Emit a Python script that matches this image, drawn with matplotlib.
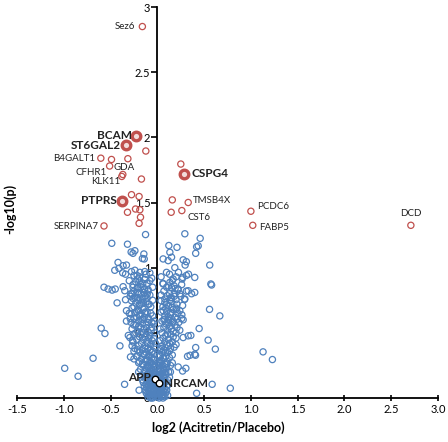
import matplotlib
matplotlib.use("Agg")
import matplotlib.pyplot as plt

plt.rcParams['font.family'] = ['Lato', 'DejaVu Sans']

# sparse blue points (log2 ratio, -log10 p)
blue_sparse = [
    (-0.126, 1.254), (0.294, 1.26), (0.458, 1.225), (-0.487, 1.187), (-0.319, 1.18),
    (-0.28, 1.12), (-0.24, 1.13), (-0.26, 1.11), (0.123, 1.17), (0.21, 1.156), (0.437, 1.167),
    (0.42, 1.16), (0.134, 1.118), (0.41, 1.11), (-0.144, 1.105), (-0.14, 1.067), (-0.16, 1.07),
    (0.062, 1.067), (0.116, 1.054), (0.152, 1.08), (0.276, 1.06), (0.31, 1.046), (0.297, 1.02),
    (0.187, 1.0), (0.56, 1.02), (-0.42, 1.04), (-0.366, 1.015), (-0.33, 1.02), (-0.455, 0.98),
    (-0.41, 0.995), (-0.37, 0.96), (-0.34, 0.95), (-0.276, 0.97), (-0.24, 0.98), (-0.187, 0.964),
    (-0.25, 0.94), (-0.216, 0.94), (-0.134, 0.97), (-0.08, 0.96), (0.098, 0.964), (0.226, 0.964),
    (0.31, 0.94), (0.27, 0.925), (0.333, 0.95), (0.40, 0.925), (0.169, 0.913), (0.265, 0.913),
    (0.572, 0.875), (0.58, 0.867), (-0.21, 0.913), (-0.187, 0.9), (-0.134, 0.91),
    (0.062, 0.875), (0.134, 0.887), (0.152, 0.848), (0.18, 0.86), (0.223, 0.836), (0.26, 0.87),
    (0.33, 0.823), (-0.57, 0.85), (-0.526, 0.836), (-0.483, 0.828), (-0.45, 0.836),
    (-0.366, 0.854), (-0.348, 0.823), (-0.26, 0.85), (-0.216, 0.843), (-0.176, 0.85),
    (-0.134, 0.837), (-0.098, 0.83), (-0.212, 0.81), (-0.173, 0.798), (-0.144, 0.81),
    (-0.108, 0.798), (0.31, 0.82), (0.40, 0.81), (0.366, 0.80), (0.29, 0.756),
    (0.105, 0.785), (0.152, 0.77), (0.18, 0.80), (0.2, 0.754), (0.25, 0.78), (0.294, 0.76),
    (-0.43, 0.73), (-0.34, 0.754), (-0.276, 0.746), (-0.283, 0.8), (-0.26, 0.764),
    (-0.24, 0.77), (-0.2, 0.75), (-0.187, 0.72), (-0.15, 0.733), (-0.11, 0.767), (-0.088, 0.72),
    (0.04, 0.746), (0.08, 0.733), (0.098, 0.72), (0.134, 0.75), (0.16, 0.695), (0.205, 0.68),
    (0.558, 0.68), (0.668, 0.63), (-0.33, 0.67), (-0.28, 0.644), (-0.24, 0.656), (-0.21, 0.68),
    (-0.33, 0.59), (-0.29, 0.61), (-0.187, 0.63), (-0.158, 0.605), (-0.13, 0.65), (-0.098, 0.613),
    (-0.059, 0.58), (-0.034, 0.59), (0.062, 0.67), (0.08, 0.605), (0.116, 0.623), (0.141, 0.656),
    (0.169, 0.59), (0.212, 0.605), (0.262, 0.638), (0.276, 0.6),
    (-0.6, 0.536), (-0.56, 0.495), (-0.4, 0.4), (-0.687, 0.305), (-0.99, 0.228), (-0.847, 0.167),
    (-0.294, 0.464), (-0.265, 0.44), (-0.25, 0.36), (-0.216, 0.32), (-0.287, 0.315),
    (-0.35, 0.105), (-0.195, 0.06), (-0.116, 0.08),
    (0.323, 0.32), (0.40, 0.336), (0.41, 0.387), (0.447, 0.533), (0.33, 0.477), (0.276, 0.464),
    (0.358, 0.48), (0.35, 0.328), (0.408, 0.328), (0.543, 0.444), (0.62, 0.375),
    (0.305, 0.228), (0.27, 0.207), (0.223, 0.238), (0.42, 0.036), (0.586, 0.105), (0.78, 0.075),
    (1.13, 0.354), (1.23, 0.295),
]

# dense V-shaped core, estimated
core_left = [
    (-0.02, 0.01), (-0.05, 0.01), (-0.08, 0.02), (-0.03, 0.03), (-0.11, 0.03), (-0.06, 0.04),
    (-0.01, 0.05), (-0.09, 0.05), (-0.04, 0.06), (-0.13, 0.06), (-0.07, 0.07), (-0.02, 0.08),
    (-0.1, 0.08), (-0.05, 0.09), (-0.12, 0.1), (-0.08, 0.11), (-0.03, 0.11), (-0.15, 0.12),
    (-0.06, 0.13), (-0.1, 0.14), (-0.13, 0.15), (-0.04, 0.15), (-0.08, 0.16), (-0.17, 0.17),
    (-0.11, 0.18), (-0.06, 0.18), (-0.14, 0.2), (-0.09, 0.2), (-0.04, 0.21), (-0.18, 0.22),
    (-0.12, 0.23), (-0.07, 0.23), (-0.15, 0.25), (-0.1, 0.25), (-0.05, 0.26), (-0.2, 0.27),
    (-0.13, 0.28), (-0.08, 0.28), (-0.17, 0.3), (-0.11, 0.3), (-0.06, 0.31), (-0.22, 0.32),
    (-0.14, 0.33), (-0.09, 0.33), (-0.19, 0.35), (-0.12, 0.35), (-0.05, 0.36), (-0.16, 0.37),
    (-0.24, 0.38), (-0.1, 0.38), (-0.2, 0.4), (-0.13, 0.4), (-0.07, 0.41), (-0.17, 0.42),
    (-0.26, 0.43), (-0.11, 0.43), (-0.22, 0.45), (-0.15, 0.45), (-0.04, 0.46), (-0.19, 0.47),
    (-0.12, 0.48), (-0.08, 0.48), (-0.25, 0.49), (-0.16, 0.5), (-0.21, 0.51), (-0.1, 0.51),
    (-0.14, 0.53), (-0.27, 0.53), (-0.18, 0.54), (-0.06, 0.54), (-0.23, 0.56), (-0.12, 0.56),
    (-0.16, 0.57), (-0.2, 0.59), (-0.09, 0.6), (-0.25, 0.61), (-0.14, 0.62), (-0.05, 0.63),
    (-0.18, 0.64), (-0.22, 0.66), (-0.11, 0.66), (-0.15, 0.68), (-0.27, 0.69), (-0.07, 0.7),
    (-0.19, 0.71), (-0.23, 0.73), (-0.12, 0.74), (-0.16, 0.76), (-0.29, 0.78), (-0.08, 0.79),
    (-0.2, 0.8), (-0.25, 0.82), (-0.14, 0.83), (-0.18, 0.87), (-0.11, 0.88), (-0.23, 0.89),
    (-0.3, 0.9), (-0.06, 0.92),
    (-0.015, 0.14), (-0.035, 0.18), (-0.025, 0.24), (-0.045, 0.3), (-0.03, 0.34), (-0.075, 0.37),
    (-0.02, 0.42), (-0.055, 0.44), (-0.09, 0.46), (-0.135, 0.47), (-0.18, 0.49), (-0.23, 0.5),
    (-0.03, 0.5), (-0.065, 0.52), (-0.115, 0.54), (-0.2, 0.55), (-0.25, 0.56), (-0.04, 0.57),
    (-0.1, 0.58), (-0.175, 0.6), (-0.22, 0.62), (-0.07, 0.65), (-0.13, 0.66), (-0.2, 0.67),
    (-0.25, 0.7), (-0.1, 0.72), (-0.17, 0.73), (-0.05, 0.75), (-0.21, 0.77), (-0.13, 0.78),
    (-0.27, 0.8), (-0.1, 0.82), (-0.05, 0.85), (-0.21, 0.85), (-0.155, 0.88), (-0.26, 0.87),
    (-0.08, 0.9), (-0.19, 0.93), (-0.12, 0.95), (-0.3, 0.65), (-0.28, 0.58), (-0.31, 0.48),
    (-0.27, 0.4), (-0.21, 0.37), (-0.25, 0.3), (-0.19, 0.28), (-0.2, 0.2), (-0.16, 0.14),
    (-0.14, 0.09), (-0.12, 0.04),
]
core_right = [
    (0.01, 0.01), (0.04, 0.01), (0.07, 0.02), (0.02, 0.03), (0.05, 0.04), (0.09, 0.04),
    (0.03, 0.05), (0.06, 0.06), (0.01, 0.07), (0.08, 0.07), (0.04, 0.08), (0.1, 0.09),
    (0.02, 0.1), (0.06, 0.1), (0.08, 0.12), (0.03, 0.13), (0.05, 0.14), (0.11, 0.14),
    (0.07, 0.16), (0.03, 0.17), (0.09, 0.18), (0.05, 0.19), (0.12, 0.2), (0.04, 0.21),
    (0.07, 0.22), (0.1, 0.23), (0.05, 0.25), (0.14, 0.25), (0.08, 0.26), (0.11, 0.28),
    (0.04, 0.29), (0.06, 0.31), (0.13, 0.31), (0.09, 0.32), (0.16, 0.33), (0.05, 0.35),
    (0.11, 0.35), (0.07, 0.37), (0.14, 0.38), (0.18, 0.39), (0.05, 0.4), (0.1, 0.41),
    (0.08, 0.43), (0.16, 0.43), (0.12, 0.45), (0.06, 0.46), (0.2, 0.46), (0.09, 0.48),
    (0.14, 0.49), (0.05, 0.5), (0.17, 0.51), (0.11, 0.52), (0.07, 0.54), (0.21, 0.54),
    (0.13, 0.55), (0.09, 0.57), (0.16, 0.58), (0.05, 0.59), (0.23, 0.58), (0.12, 0.6),
    (0.19, 0.62), (0.08, 0.63), (0.14, 0.64), (0.1, 0.66), (0.24, 0.67), (0.17, 0.68),
    (0.06, 0.7), (0.12, 0.71), (0.21, 0.72), (0.15, 0.74), (0.08, 0.76), (0.18, 0.78),
    (0.13, 0.8), (0.07, 0.82), (0.22, 0.83), (0.1, 0.85), (0.16, 0.9), (0.04, 0.93),
    (0.015, 0.15), (0.03, 0.22), (0.02, 0.27), (0.03, 0.32), (0.085, 0.35), (0.13, 0.36),
    (0.04, 0.38), (0.2, 0.41), (0.13, 0.42), (0.03, 0.44), (0.17, 0.47), (0.11, 0.49),
    (0.2, 0.5), (0.03, 0.53), (0.15, 0.53), (0.24, 0.52), (0.19, 0.56), (0.12, 0.58),
    (0.07, 0.6), (0.26, 0.61), (0.15, 0.61), (0.22, 0.65), (0.04, 0.66), (0.2, 0.69),
    (0.09, 0.69), (0.27, 0.71), (0.14, 0.77), (0.04, 0.79), (0.24, 0.8), (0.19, 0.84),
    (0.12, 0.86), (0.06, 0.88), (0.2, 0.93), (0.13, 0.95), (0.16, 0.27), (0.14, 0.2),
    (0.13, 0.16), (0.11, 0.1), (0.1, 0.06), (0.11, 0.02),
]
core_base = [
    (-0.1, 0.01), (-0.07, 0.0), (-0.04, 0.02), (0.0, 0.01), (0.02, 0.0), (0.05, 0.02),
    (0.08, 0.01), (-0.09, 0.03), (-0.02, 0.04), (0.01, 0.04), (0.04, 0.05), (0.07, 0.05),
    (-0.06, 0.06), (-0.01, 0.06), (0.02, 0.07), (0.05, 0.08), (-0.08, 0.08), (-0.03, 0.09),
    (0.0, 0.09), (0.03, 0.1), (0.07, 0.11), (-0.11, 0.11), (-0.05, 0.12), (0.0, 0.12),
    (0.04, 0.12), (-0.08, 0.13), (-0.02, 0.14), (0.02, 0.15), (0.08, 0.15), (-0.12, 0.16),
    (-0.05, 0.17), (0.0, 0.17), (0.05, 0.17), (-0.09, 0.19), (-0.02, 0.19), (0.02, 0.2),
    (0.09, 0.2), (-0.13, 0.21), (-0.06, 0.22), (0.0, 0.22), (0.06, 0.23), (-0.1, 0.24),
    (-0.03, 0.24), (0.02, 0.25), (0.1, 0.26), (-0.16, 0.26), (-0.07, 0.27), (0.03, 0.28),
    (-0.12, 0.29), (-0.03, 0.29), (0.07, 0.3), (-0.09, 0.32), (0.02, 0.33), (-0.15, 0.34),
    (-0.06, 0.35), (0.03, 0.37), (-0.13, 0.38), (-0.03, 0.39), (0.12, 0.4), (-0.1, 0.42),
    (-0.05, 0.0), (0.06, 0.0), (-0.01, 0.03), (0.03, 0.03), (-0.07, 0.1), (0.05, 0.11),
    (-0.04, 0.16), (0.03, 0.18), (0.06, 0.2), (-0.07, 0.2), (0.0, 0.27), (-0.08, 0.25),
]

# significant proteins (red)
red_open = [
    (-0.16, 2.85), (-0.123, 1.895), (-0.604, 1.84), (-0.49, 1.83), (-0.315, 1.836),
    (-0.51, 1.78), (-0.369, 1.715), (-0.38, 1.70), (-0.17, 1.68), (-0.276, 1.56),
    (-0.195, 1.546), (-0.233, 1.45), (-0.187, 1.444), (-0.319, 1.425), (-0.18, 1.387),
    (-0.195, 1.34), (-0.57, 1.32), (0.251, 1.795), (0.16, 1.52), (0.33, 1.50),
    (0.148, 1.425), (0.262, 1.438), (1.0, 1.433), (1.02, 1.325), (2.71, 1.325),
]
red_big = [(-0.227, 2.008), (-0.34, 1.94), (-0.38, 1.513), (0.29, 1.715)]
black_pts = [(-0.027, 0.146), (0.013, 0.115)]

# labels: text, x, y, horizontal alignment, bold
labels = [
    ("Sez6", -0.24, 2.854, "right", False),
    ("BCAM", -0.276, 2.013, "right", True),
    ("ST6GAL2", -0.394, 1.94, "right", True),
    ("B4GALT1", -0.668, 1.836, "right", False),
    ("GDA", -0.465, 1.767, "left", False),
    ("CFHR1", -0.543, 1.728, "right", False),
    ("KLK11", -0.398, 1.66, "right", False),
    ("PTPRS", -0.436, 1.515, "right", True),
    ("SERPINA7", -0.622, 1.318, "right", False),
    ("CSPG4", 0.366, 1.725, "left", True),
    ("TMSB4X", 0.376, 1.515, "left", False),
    ("CST6", 0.319, 1.387, "left", False),
    ("PCDC6", 1.068, 1.472, "left", False),
    ("FABP5", 1.089, 1.31, "left", False),
    ("DCD", 2.708, 1.413, "center", False),
    ("APP", -0.066, 0.16, "right", True),
    ("NRCAM", 0.073, 0.11, "left", True),
]

x_ticks = [-1.5, -1.0, -0.5, 0.0, 0.5, 1.0, 1.5, 2.0, 2.5, 3.0]
y_ticks = [0, 0.5, 1, 1.5, 2, 2.5, 3]
y_tick_labels = ["0", "0.5", "1", "1.5", "2", "2.5", "3"]

BLUE = "#4F81BD"
RED = "#C0504D"

fig = plt.figure(figsize=(4.48, 4.42), dpi=100)
ax = fig.add_axes([17 / 448, 44 / 442, 421 / 448, 391 / 442])

blue = blue_sparse + core_left + core_right + core_base
ax.scatter([p[0] for p in blue], [p[1] for p in blue], s=20, facecolors="none",
           edgecolors=BLUE, linewidths=0.9, zorder=3, clip_on=False)
ax.scatter([p[0] for p in red_open], [p[1] for p in red_open], s=20, facecolors="none",
           edgecolors=RED, linewidths=0.9, zorder=4)
ax.scatter([p[0] for p in red_big], [p[1] for p in red_big], s=38, facecolors="#f2dcdb",
           edgecolors=RED, linewidths=2.4, zorder=5)
ax.scatter([p[0] for p in black_pts], [p[1] for p in black_pts], s=22, facecolors="white",
           edgecolors="black", linewidths=1.0, zorder=6)

for text, x, y, ha, bold in labels:
    ax.text(x, y, text, ha=ha, va="center", fontsize=8.5 if bold else 7,
            fontweight="bold" if bold else "normal", color="#222222", zorder=7)

ax.set_xlim(-1.5, 3.0)
ax.set_ylim(0, 3)
ax.spines["left"].set_position(("data", 0))
ax.spines["top"].set_visible(False)
ax.spines["right"].set_visible(False)
for s in ("left", "bottom"):
    ax.spines[s].set_linewidth(1.3)
ax.set_xticks(x_ticks)
ax.set_xticklabels([f"{t:.1f}" for t in x_ticks])
ax.set_yticks(y_ticks)
ax.set_yticklabels(y_tick_labels)
ax.tick_params(axis="x", direction="inout", length=5, width=1.2, labelsize=8, pad=2)
ax.tick_params(axis="y", direction="out", length=4, width=1.2, labelsize=8, pad=1)
ax.patch.set_alpha(0)

fig.text(218 / 448, 1 - 428 / 442, "log2 (Acitretin/Placebo)", ha="center", va="center",
         fontsize=9, fontweight="bold")
fig.text(10 / 448, 1 - 209 / 442, "-log10(p)", ha="center", va="center", rotation=90,
         fontsize=9, fontweight="bold")

fig.savefig("out.png", dpi=100)
